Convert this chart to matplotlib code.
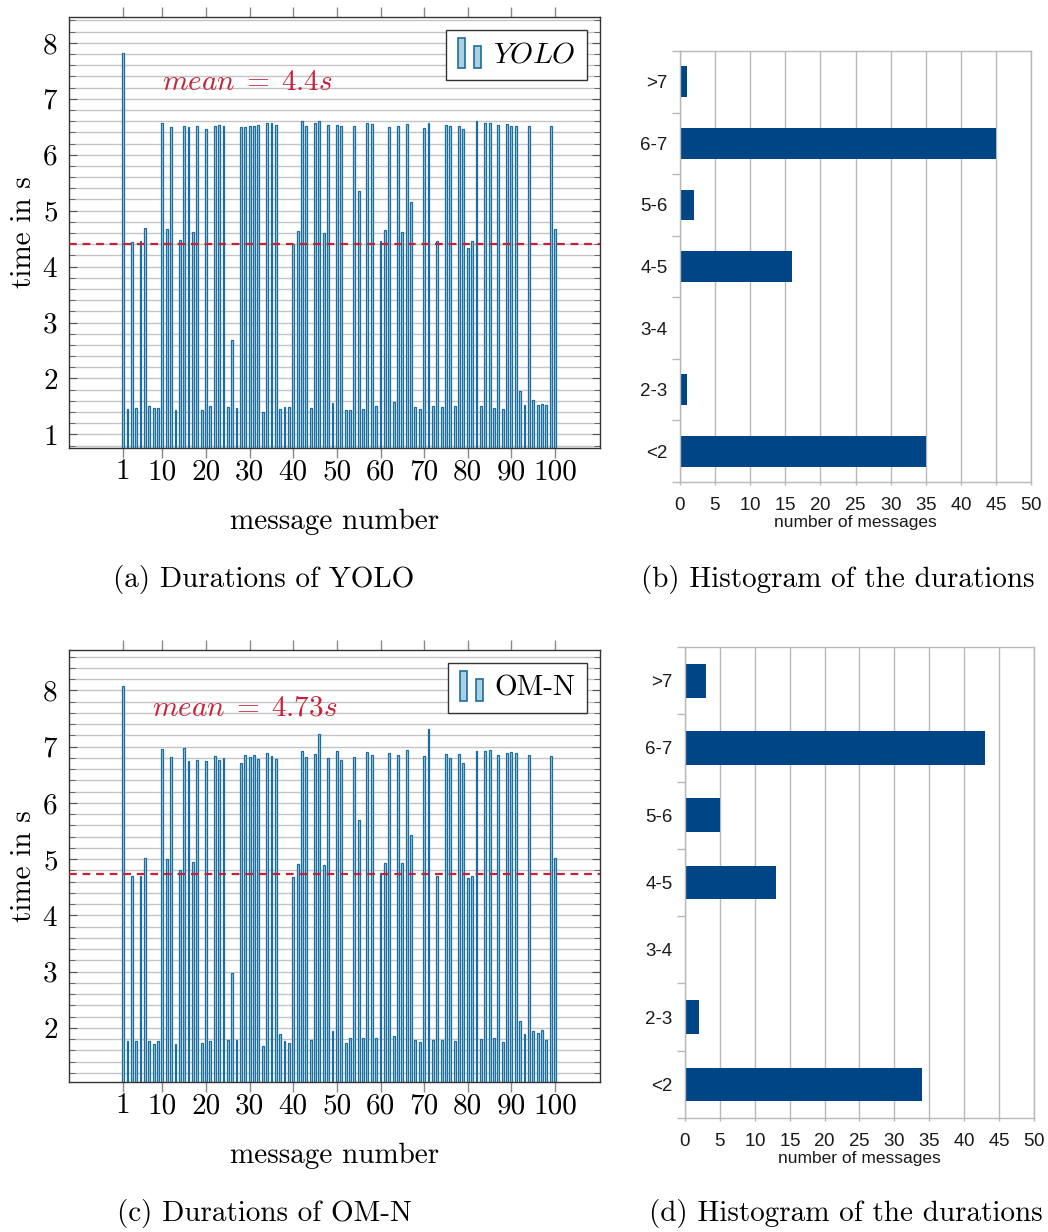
import matplotlib
matplotlib.use('Agg')
import matplotlib.pyplot as plt
from matplotlib.patches import Rectangle
from matplotlib.legend_handler import HandlerBase
from matplotlib.ticker import MultipleLocator

# durations per message (s)
yolo_times = [7.82, 1.46, 4.44, 1.48, 4.45, 4.69, 1.51, 1.48, 1.48, 6.57,
              4.67, 6.49, 1.43, 4.48, 6.52, 6.49, 4.61, 6.51, 1.44, 6.46,
              1.51, 6.51, 6.53, 6.52, 1.49, 2.69, 1.48, 6.49, 6.50, 6.52,
              6.51, 6.53, 1.40, 6.56, 6.56, 6.54, 1.46, 1.49, 1.49, 4.41,
              4.64, 6.61, 6.51, 1.48, 6.57, 6.60, 4.60, 6.53, 1.57, 6.53,
              6.51, 1.44, 1.44, 6.51, 5.36, 1.46, 6.57, 6.55, 1.50, 4.46,
              4.65, 6.49, 1.58, 6.51, 4.61, 6.55, 5.16, 1.49, 1.45, 6.48,
              6.57, 1.50, 4.45, 1.49, 6.53, 6.51, 1.51, 6.52, 6.46, 4.33,
              4.45, 6.60, 1.51, 6.56, 6.56, 1.48, 6.53, 1.46, 6.55, 6.52,
              6.52, 1.78, 1.52, 6.52, 1.61, 1.52, 1.55, 1.52, 6.52, 4.68]

omn_times = [8.08, 1.77, 4.70, 1.76, 4.70, 5.02, 1.77, 1.72, 1.77, 6.96,
             5.01, 6.82, 1.71, 4.81, 6.98, 6.75, 4.95, 6.76, 1.73, 6.74,
             1.77, 6.83, 6.77, 6.80, 1.78, 2.98, 1.78, 6.71, 6.86, 6.82,
             6.86, 6.79, 1.68, 6.88, 6.83, 6.79, 1.90, 1.77, 1.73, 4.69,
             4.91, 6.92, 6.81, 1.78, 6.87, 7.23, 4.89, 6.80, 1.95, 6.92,
             6.76, 1.74, 1.82, 6.81, 5.69, 1.83, 6.90, 6.85, 1.83, 4.75,
             4.93, 6.89, 1.86, 6.85, 4.94, 6.94, 5.43, 1.79, 1.75, 6.83,
             7.31, 1.78, 4.70, 1.78, 6.87, 6.80, 1.77, 6.87, 6.71, 4.67,
             4.70, 6.93, 1.81, 6.93, 6.95, 1.82, 6.86, 1.75, 6.89, 6.90,
             6.89, 2.12, 1.90, 6.85, 1.94, 1.91, 1.97, 1.79, 6.84, 5.02]

yolo_mean = 4.4
omn_mean = 4.73
msg_ticks = [1, 10, 20, 30, 40, 50, 60, 70, 80, 90, 100]

# histograms
bins = ['<2', '2-3', '3-4', '4-5', '5-6', '6-7', '>7']
yolo_hist = [35, 1, 0, 16, 2, 45, 1]
omn_hist = [34, 2, 0, 13, 5, 43, 3]

bar_face = '#a9d0e3'
bar_edge = '#1d6e9e'
mean_red = '#c5213a'
hist_blue = '#004586'

plt.rcParams['font.family'] = 'cmr10'
plt.rcParams['mathtext.fontset'] = 'cm'
plt.rcParams['axes.formatter.use_mathtext'] = True

fig = plt.figure(figsize=(10.48, 12.32), dpi=100)


class TwoBars(HandlerBase):
    # pgfplots style ybar legend: two small bars
    def create_artists(self, legend, orig, xd, yd, w, h, fs, trans):
        bw = w * 0.28
        r1 = Rectangle((-xd + 0.02 * w, -yd - 0.3 * h), bw, h * 1.5,
                       facecolor=bar_face, edgecolor=bar_edge, lw=1.2, transform=trans)
        r2 = Rectangle((-xd + 0.62 * w, -yd - 0.3 * h), bw, h * 1.1,
                       facecolor=bar_face, edgecolor=bar_edge, lw=1.2, transform=trans)
        return [r1, r2]


def durations(rect, times, mean, mean_text, name, text_xy):
    ax = fig.add_axes(rect)
    msg = list(range(1, len(times) + 1))
    ax.bar(msg, times, width=0.42, color=bar_face, edgecolor=bar_edge, linewidth=0.9, zorder=2)
    ax.axhline(mean, color=mean_red, ls=(0, (3.5, 2.6)), lw=1.6, zorder=3)

    lo, hi = min(times), max(times)
    pad = 0.1 * (hi - lo)
    ax.set_ylim(lo - pad, hi + pad)
    ax.set_xlim(-11.4, 110.3)

    ax.yaxis.set_major_locator(MultipleLocator(1))
    ax.yaxis.set_minor_locator(MultipleLocator(0.2))
    ax.yaxis.grid(True, which='both', color='#c4c4c4', lw=1.0, zorder=0)
    ax.set_axisbelow(True)
    ax.tick_params(axis='y', which='both', direction='in', left=True, right=True,
                   color='#555555', labelsize=21, pad=8)
    ax.tick_params(axis='y', which='major', length=6)
    ax.tick_params(axis='y', which='minor', length=4.5)

    ax.set_xticks(msg_ticks)
    ax.set_xticklabels([str(t) for t in msg_ticks])
    ax.tick_params(axis='x', direction='out', top=True, bottom=True, length=7,
                   color='#8a8a8a', width=1.0, labelsize=21, pad=1)

    for s in ax.spines.values():
        s.set_color('#333333')
        s.set_linewidth(1.0)

    ax.set_ylabel('time in s', fontsize=21)
    ax.yaxis.set_label_coords(-0.06, 0.5)
    ax.set_xlabel('message number', fontsize=21)
    ax.xaxis.set_label_coords(0.5, -0.14)

    ax.text(text_xy[0], text_xy[1], mean_text, transform=ax.transAxes,
            color=mean_red, fontsize=21, va='center', ha='left')

    proxy = Rectangle((0, 0), 1, 1)
    leg = ax.legend([proxy], [name], handler_map={Rectangle: TwoBars()},
                    loc='upper right', fontsize=21, fancybox=False, framealpha=1,
                    edgecolor='#333333', borderpad=0.4, handlelength=0.9,
                    handletextpad=0.3, borderaxespad=0.45)
    leg.get_frame().set_linewidth(1.0)
    return ax


def histogram(rect, counts):
    ax = fig.add_axes(rect)
    pos = list(range(len(bins)))
    ax.barh(pos, counts, height=0.5, color=hist_blue, zorder=2)
    ax.set_xlim(0, 50)
    ax.set_ylim(-0.5, len(bins) - 0.5)
    ax.set_xticks(range(0, 51, 5))
    ax.xaxis.grid(True, color='#b8b8b8', lw=1.0, zorder=0)
    ax.set_axisbelow(True)

    ax.set_yticks(pos)
    ax.set_yticklabels(bins)
    ax.set_yticks([p - 0.5 for p in pos] + [len(bins) - 0.5], minor=True)
    ax.tick_params(axis='y', which='major', length=0, pad=9, labelsize=13.5,
                   labelcolor='#1a1a1a', labelfontfamily='Liberation Sans')
    ax.tick_params(axis='y', which='minor', length=6, color='#b8b8b8', width=1.0)
    ax.tick_params(axis='x', length=2.5, color='#b8b8b8', width=1.0, pad=8,
                   labelsize=13.5, labelcolor='#1a1a1a', labelfontfamily='Liberation Sans')
    for s in ax.spines.values():
        s.set_color('#b8b8b8')
        s.set_linewidth(1.0)
    ax.set_xlabel('number of messages', fontsize=12.5, family='Liberation Sans',
                  color='#1a1a1a', labelpad=1)
    return ax


durations([0.0658, 0.6364, 0.5067, 0.3498], yolo_times, yolo_mean,
          r'$mean\;=\;4.4s$', r'$YOLO$', (0.175, 0.847))
durations([0.0658, 0.1218, 0.5067, 0.3506], omn_times, omn_mean,
          r'$mean\;=\;4.73s$', 'OM-N', (0.156, 0.866))
histogram([0.6489, 0.6088, 0.3349, 0.3498], yolo_hist)
histogram([0.6536, 0.0925, 0.3330, 0.3823], omn_hist)

fig.text(264 / 1048, 1 - 580 / 1232, '(a) Durations of YOLO', fontsize=21, ha='center', va='center')
fig.text(838 / 1048, 1 - 580 / 1232, '(b) Histogram of the durations', fontsize=21, ha='center', va='center')
fig.text(264 / 1048, 1 - 1213 / 1232, '(c) Durations of OM-N', fontsize=21, ha='center', va='center')
fig.text(846 / 1048, 1 - 1213 / 1232, '(d) Histogram of the durations', fontsize=21, ha='center', va='center')

fig.savefig('out.png', dpi=100)
